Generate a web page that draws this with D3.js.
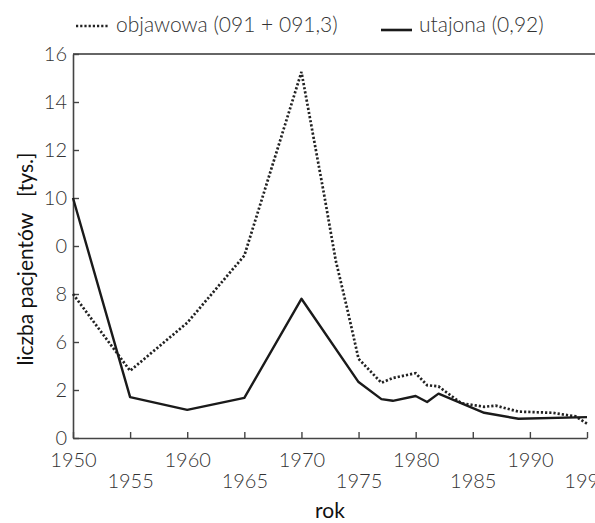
<!DOCTYPE html>
<html>
<head>
<meta charset="utf-8">
<script src="https://cdn.jsdelivr.net/npm/d3@7"></script>
<style>
  body { margin: 0; background: #fff; }
  text { font-family: Lato, "Open Sans", sans-serif; }
</style>
</head>
<body>
<div id="chart"></div>
<script>
// data
var objawowaYears  = [1950, 1955, 1960, 1965, 1970, 1972, 1973, 1974, 1975, 1977, 1978, 1980, 1981, 1982, 1984, 1986, 1987, 1989, 1992, 1994, 1995];
var objawowaValues = [6.0, 2.8, 4.8, 7.6, 15.25, 10.1, 7.4, 5.4, 3.3, 2.3, 2.5, 2.7, 2.2, 2.15, 1.45, 1.3, 1.35, 1.1, 1.05, 0.9, 0.6];
var utajonaYears  = [1950, 1955, 1960, 1965, 1970, 1975, 1977, 1978, 1980, 1981, 1982, 1986, 1989, 1995];
var utajonaValues = [10.0, 1.7, 1.17, 1.67, 5.8, 2.33, 1.62, 1.55, 1.75, 1.5, 1.85, 1.05, 0.8, 0.87];
var xTicks = [1950, 1955, 1960, 1965, 1970, 1975, 1980, 1985, 1990, 1995];
var yTicks = [0, 2, 4, 6, 8, 10, 12, 14, 16];
var yTickLabels = ["0", "2", "6", "8", "0", "10", "12", "14", "16"]; // as printed
var legendLabels = ["objawowa (091 + 091,3)", "utajona (0,92)"];

var W = 595, H = 523;
var margin = {top: 54, right: 8, bottom: 85, left: 73};
var w = W - margin.left - margin.right,
    h = H - margin.top - margin.bottom;

var svg = d3.select("#chart").append("svg")
  .attr("width", W).attr("height", H);
var g = svg.append("g")
  .attr("transform", `translate(${margin.left},${margin.top})`);

var x = d3.scaleLinear().domain([1950, 1995]).range([0, w]);
var y = d3.scaleLinear().domain([0, 16]).range([h, 0]);

// top frame line
g.append("line")
  .attr("x1", 0).attr("x2", W - margin.left)
  .attr("y1", 0).attr("y2", 0)
  .attr("stroke", "#333").attr("stroke-width", 1.5);

// Y axis (ticks point inward)
var yAxis = g.append("g")
  .call(d3.axisLeft(y).tickValues(yTicks).tickSizeInner(-6).tickSizeOuter(0)
    .tickPadding(12).tickFormat((d, i) => yTickLabels[i]));
// X axis
var xAxis = g.append("g")
  .attr("transform", `translate(0,${h})`)
  .call(d3.axisBottom(x).tickValues(xTicks).tickSizeInner(-6).tickSizeOuter(0)
    .tickPadding(0).tickFormat(d3.format("d")));

[xAxis, yAxis].forEach(function(a) {
  a.select(".domain").attr("stroke", "#444").attr("stroke-width", 1.6);
  a.selectAll(".tick line").attr("stroke", "#444").attr("stroke-width", 1.4);
  a.selectAll("text").style("font-size", "20px").style("font-weight", 300).attr("fill", "#333");
});
yAxis.selectAll("text").attr("x", -6);
xAxis.selectAll(".tick text")
  .attr("dy", 0)
  .attr("y", (d, i) => i % 2 === 0 ? 29 : 50);

// lines
var objawowa = objawowaYears.map((d, i) => [d, objawowaValues[i]]);
var utajona = utajonaYears.map((d, i) => [d, utajonaValues[i]]);
var line = d3.line().x(d => x(d[0])).y(d => y(d[1]));

g.append("path")
  .datum(objawowa)
  .attr("fill", "none")
  .attr("stroke", "#222")
  .attr("stroke-width", 2.7)
  .attr("stroke-dasharray", "2.2,2")
  .attr("d", line);

g.append("path")
  .datum(utajona)
  .attr("fill", "none")
  .attr("stroke", "#1a1a1a")
  .attr("stroke-width", 2.4)
  .attr("stroke-linejoin", "round")
  .attr("d", line);

// axis titles
svg.append("text")
  .attr("x", 330).attr("y", 518)
  .style("text-anchor", "middle")
  .style("font-size", "21px")
  .attr("fill", "#111")
  .text("rok");

svg.append("text")
  .attr("transform", "translate(33,259) rotate(-90)")
  .style("text-anchor", "middle")
  .style("font-size", "21px")
  .style("white-space", "pre")
  .attr("fill", "#111")
  .text("liczba pacjentów   [tys.]");

// legend
var legend = svg.append("g");
legend.append("line")
  .attr("x1", 76).attr("x2", 108).attr("y1", 26).attr("y2", 26)
  .attr("stroke", "#222").attr("stroke-width", 2.6).attr("stroke-dasharray", "2.2,2");
legend.append("text")
  .attr("x", 116).attr("y", 32)
  .style("font-size", "21px").style("font-weight", 300).attr("fill", "#333")
  .style("white-space", "pre")
  .text(legendLabels[0]);
legend.append("line")
  .attr("x1", 381).attr("x2", 412).attr("y1", 30).attr("y2", 30)
  .attr("stroke", "#1a1a1a").attr("stroke-width", 2.6);
legend.append("text")
  .attr("x", 419).attr("y", 32)
  .style("font-size", "21px").style("font-weight", 300).attr("fill", "#333")
  .text(legendLabels[1]);
</script>
</body>
</html>
